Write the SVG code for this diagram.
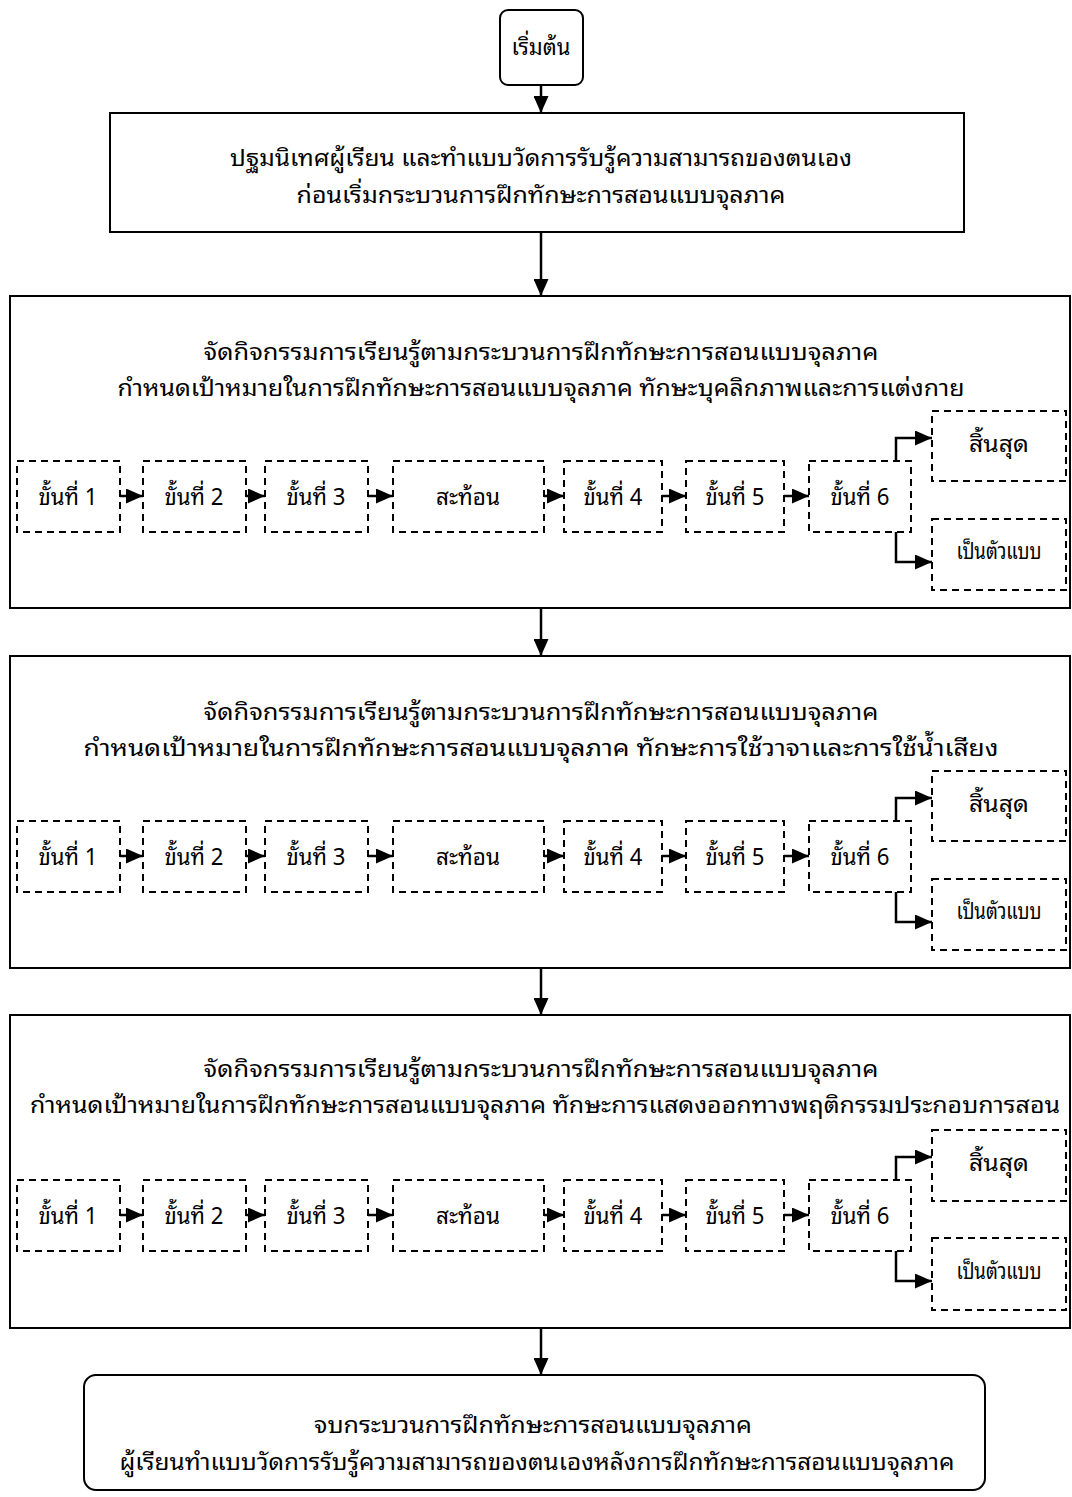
<svg xmlns="http://www.w3.org/2000/svg" width="1072" height="1497" viewBox="0 0 1072 1497">
<style>
.solid{fill:#fff;stroke:#000;stroke-width:2}
.dash{fill:#fff;stroke:#000;stroke-width:2;stroke-dasharray:7 5}
.t{font-family:"Noto Sans Thai Looped","Noto Serif Thai","Loma","Garuda","Norasi","Noto Sans Thai","Noto Sans","DejaVu Sans",sans-serif;font-size:23px;fill:#000;text-anchor:middle}
.c{fill:none;stroke:#000;stroke-width:2.5}
</style>
<defs>
<marker id="ah" markerWidth="17" markerHeight="15" refX="17" refY="7.5" orient="auto" markerUnits="userSpaceOnUse"><path d="M0,0 L17,7.5 L0,15 z" fill="#000"/></marker>
</defs>
<rect width="1072" height="1497" fill="#fff"/>

<g id="start"><rect class="solid" x="500" y="10" width="83" height="75" rx="8"/><text class="t" x="541" y="55" textLength="59" lengthAdjust="spacingAndGlyphs">เริ่มต้น</text></g>

<g id="orient"><rect class="solid" x="110" y="113" width="854" height="119"/>
<text class="t" x="541" y="166" textLength="622" lengthAdjust="spacingAndGlyphs">ปฐมนิเทศผู้เรียน และทำแบบวัดการรับรู้ความสามารถของตนเอง</text>
<text class="t" x="541" y="203" textLength="489" lengthAdjust="spacingAndGlyphs">ก่อนเริ่มกระบวนการฝึกทักษะการสอนแบบจุลภาค</text></g>

<g id="phase1"><rect class="solid" x="10" y="296" width="1060" height="312"/>
<text class="t" x="541" y="360" textLength="675" lengthAdjust="spacingAndGlyphs">จัดกิจกรรมการเรียนรู้ตามกระบวนการฝึกทักษะการสอนแบบจุลภาค</text>
<text class="t" x="541" y="396" textLength="847" lengthAdjust="spacingAndGlyphs">กำหนดเป้าหมายในการฝึกทักษะการสอนแบบจุลภาค ทักษะบุคลิกภาพและการแต่งกาย</text></g>
<g id="p1s1"><rect class="dash" x="17" y="461" width="103" height="71"/><text class="t" x="68" y="505" textLength="59" lengthAdjust="spacingAndGlyphs">ขั้นที่ 1</text></g>
<g id="p1s2"><rect class="dash" x="143" y="461" width="103" height="71"/><text class="t" x="194" y="505" textLength="59" lengthAdjust="spacingAndGlyphs">ขั้นที่ 2</text></g>
<g id="p1s3"><rect class="dash" x="265" y="461" width="103" height="71"/><text class="t" x="316" y="505" textLength="59" lengthAdjust="spacingAndGlyphs">ขั้นที่ 3</text></g>
<g id="p1r"><rect class="dash" x="393" y="461" width="151" height="71"/><text class="t" x="468" y="505" textLength="64" lengthAdjust="spacingAndGlyphs">สะท้อน</text></g>
<g id="p1s4"><rect class="dash" x="564" y="461" width="98" height="71"/><text class="t" x="613" y="505" textLength="59" lengthAdjust="spacingAndGlyphs">ขั้นที่ 4</text></g>
<g id="p1s5"><rect class="dash" x="686" y="461" width="98" height="71"/><text class="t" x="735" y="505" textLength="59" lengthAdjust="spacingAndGlyphs">ขั้นที่ 5</text></g>
<g id="p1s6"><rect class="dash" x="809" y="461" width="102" height="71"/><text class="t" x="860" y="505" textLength="59" lengthAdjust="spacingAndGlyphs">ขั้นที่ 6</text></g>
<g id="p1end"><rect class="dash" x="932" y="411" width="134" height="70"/><text class="t" x="999" y="452" textLength="60" lengthAdjust="spacingAndGlyphs">สิ้นสุด</text></g>
<g id="p1model"><rect class="dash" x="932" y="519" width="134" height="71"/><text class="t" x="999" y="559" textLength="85" lengthAdjust="spacingAndGlyphs">เป็นตัวแบบ</text></g>

<g id="phase2"><rect class="solid" x="10" y="656" width="1060" height="312"/>
<text class="t" x="541" y="720" textLength="675" lengthAdjust="spacingAndGlyphs">จัดกิจกรรมการเรียนรู้ตามกระบวนการฝึกทักษะการสอนแบบจุลภาค</text>
<text class="t" x="541" y="756" textLength="915" lengthAdjust="spacingAndGlyphs">กำหนดเป้าหมายในการฝึกทักษะการสอนแบบจุลภาค ทักษะการใช้วาจาและการใช้น้ำเสียง</text></g>
<g id="p2s1"><rect class="dash" x="17" y="821" width="103" height="71"/><text class="t" x="68" y="865" textLength="59" lengthAdjust="spacingAndGlyphs">ขั้นที่ 1</text></g>
<g id="p2s2"><rect class="dash" x="143" y="821" width="103" height="71"/><text class="t" x="194" y="865" textLength="59" lengthAdjust="spacingAndGlyphs">ขั้นที่ 2</text></g>
<g id="p2s3"><rect class="dash" x="265" y="821" width="103" height="71"/><text class="t" x="316" y="865" textLength="59" lengthAdjust="spacingAndGlyphs">ขั้นที่ 3</text></g>
<g id="p2r"><rect class="dash" x="393" y="821" width="151" height="71"/><text class="t" x="468" y="865" textLength="64" lengthAdjust="spacingAndGlyphs">สะท้อน</text></g>
<g id="p2s4"><rect class="dash" x="564" y="821" width="98" height="71"/><text class="t" x="613" y="865" textLength="59" lengthAdjust="spacingAndGlyphs">ขั้นที่ 4</text></g>
<g id="p2s5"><rect class="dash" x="686" y="821" width="98" height="71"/><text class="t" x="735" y="865" textLength="59" lengthAdjust="spacingAndGlyphs">ขั้นที่ 5</text></g>
<g id="p2s6"><rect class="dash" x="809" y="821" width="102" height="71"/><text class="t" x="860" y="865" textLength="59" lengthAdjust="spacingAndGlyphs">ขั้นที่ 6</text></g>
<g id="p2end"><rect class="dash" x="932" y="771" width="134" height="70"/><text class="t" x="999" y="812" textLength="60" lengthAdjust="spacingAndGlyphs">สิ้นสุด</text></g>
<g id="p2model"><rect class="dash" x="932" y="879" width="134" height="71"/><text class="t" x="999" y="919" textLength="85" lengthAdjust="spacingAndGlyphs">เป็นตัวแบบ</text></g>

<g id="phase3"><rect class="solid" x="10" y="1015" width="1060" height="313"/>
<text class="t" x="541" y="1077" textLength="675" lengthAdjust="spacingAndGlyphs">จัดกิจกรรมการเรียนรู้ตามกระบวนการฝึกทักษะการสอนแบบจุลภาค</text>
<text class="t" x="545" y="1113" textLength="1030" lengthAdjust="spacingAndGlyphs">กำหนดเป้าหมายในการฝึกทักษะการสอนแบบจุลภาค ทักษะการแสดงออกทางพฤติกรรมประกอบการสอน</text></g>
<g id="p3s1"><rect class="dash" x="17" y="1180" width="103" height="71"/><text class="t" x="68" y="1224" textLength="59" lengthAdjust="spacingAndGlyphs">ขั้นที่ 1</text></g>
<g id="p3s2"><rect class="dash" x="143" y="1180" width="103" height="71"/><text class="t" x="194" y="1224" textLength="59" lengthAdjust="spacingAndGlyphs">ขั้นที่ 2</text></g>
<g id="p3s3"><rect class="dash" x="265" y="1180" width="103" height="71"/><text class="t" x="316" y="1224" textLength="59" lengthAdjust="spacingAndGlyphs">ขั้นที่ 3</text></g>
<g id="p3r"><rect class="dash" x="393" y="1180" width="151" height="71"/><text class="t" x="468" y="1224" textLength="64" lengthAdjust="spacingAndGlyphs">สะท้อน</text></g>
<g id="p3s4"><rect class="dash" x="564" y="1180" width="98" height="71"/><text class="t" x="613" y="1224" textLength="59" lengthAdjust="spacingAndGlyphs">ขั้นที่ 4</text></g>
<g id="p3s5"><rect class="dash" x="686" y="1180" width="98" height="71"/><text class="t" x="735" y="1224" textLength="59" lengthAdjust="spacingAndGlyphs">ขั้นที่ 5</text></g>
<g id="p3s6"><rect class="dash" x="809" y="1180" width="102" height="71"/><text class="t" x="860" y="1224" textLength="59" lengthAdjust="spacingAndGlyphs">ขั้นที่ 6</text></g>
<g id="p3end"><rect class="dash" x="932" y="1130" width="134" height="71"/><text class="t" x="999" y="1171" textLength="60" lengthAdjust="spacingAndGlyphs">สิ้นสุด</text></g>
<g id="p3model"><rect class="dash" x="932" y="1238" width="134" height="72"/><text class="t" x="999" y="1279" textLength="85" lengthAdjust="spacingAndGlyphs">เป็นตัวแบบ</text></g>

<g id="finish"><rect class="solid" x="84" y="1375" width="901" height="115" rx="12"/>
<text class="t" x="533" y="1433" textLength="438" lengthAdjust="spacingAndGlyphs">จบกระบวนการฝึกทักษะการสอนแบบจุลภาค</text>
<text class="t" x="537" y="1470" textLength="835" lengthAdjust="spacingAndGlyphs">ผู้เรียนทำแบบวัดการรับรู้ความสามารถของตนเองหลังการฝึกทักษะการสอนแบบจุลภาค</text></g>

<g id="connectors">
<path class="c" marker-end="url(#ah)" d="M541,85 V113"/>
<path class="c" marker-end="url(#ah)" d="M541,232 V296"/>
<path class="c" marker-end="url(#ah)" d="M541,608 V656"/>
<path class="c" marker-end="url(#ah)" d="M541,968 V1015"/>
<path class="c" marker-end="url(#ah)" d="M541,1328 V1375"/>

<path class="c" marker-end="url(#ah)" d="M120,496 H143"/>
<path class="c" marker-end="url(#ah)" d="M246,496 H265"/>
<path class="c" marker-end="url(#ah)" d="M368,496 H393"/>
<path class="c" marker-end="url(#ah)" d="M544,496 H564"/>
<path class="c" marker-end="url(#ah)" d="M662,496 H686"/>
<path class="c" marker-end="url(#ah)" d="M784,496 H809"/>
<path class="c" marker-end="url(#ah)" d="M896,461 V438 H932"/>
<path class="c" marker-end="url(#ah)" d="M896,532 V562 H932"/>

<path class="c" marker-end="url(#ah)" d="M120,856 H143"/>
<path class="c" marker-end="url(#ah)" d="M246,856 H265"/>
<path class="c" marker-end="url(#ah)" d="M368,856 H393"/>
<path class="c" marker-end="url(#ah)" d="M544,856 H564"/>
<path class="c" marker-end="url(#ah)" d="M662,856 H686"/>
<path class="c" marker-end="url(#ah)" d="M784,856 H809"/>
<path class="c" marker-end="url(#ah)" d="M896,821 V798 H932"/>
<path class="c" marker-end="url(#ah)" d="M896,892 V922 H932"/>

<path class="c" marker-end="url(#ah)" d="M120,1215 H143"/>
<path class="c" marker-end="url(#ah)" d="M246,1215 H265"/>
<path class="c" marker-end="url(#ah)" d="M368,1215 H393"/>
<path class="c" marker-end="url(#ah)" d="M544,1215 H564"/>
<path class="c" marker-end="url(#ah)" d="M662,1215 H686"/>
<path class="c" marker-end="url(#ah)" d="M784,1215 H809"/>
<path class="c" marker-end="url(#ah)" d="M896,1180 V1157 H932"/>
<path class="c" marker-end="url(#ah)" d="M896,1251 V1281 H932"/>
</g>
</svg>
